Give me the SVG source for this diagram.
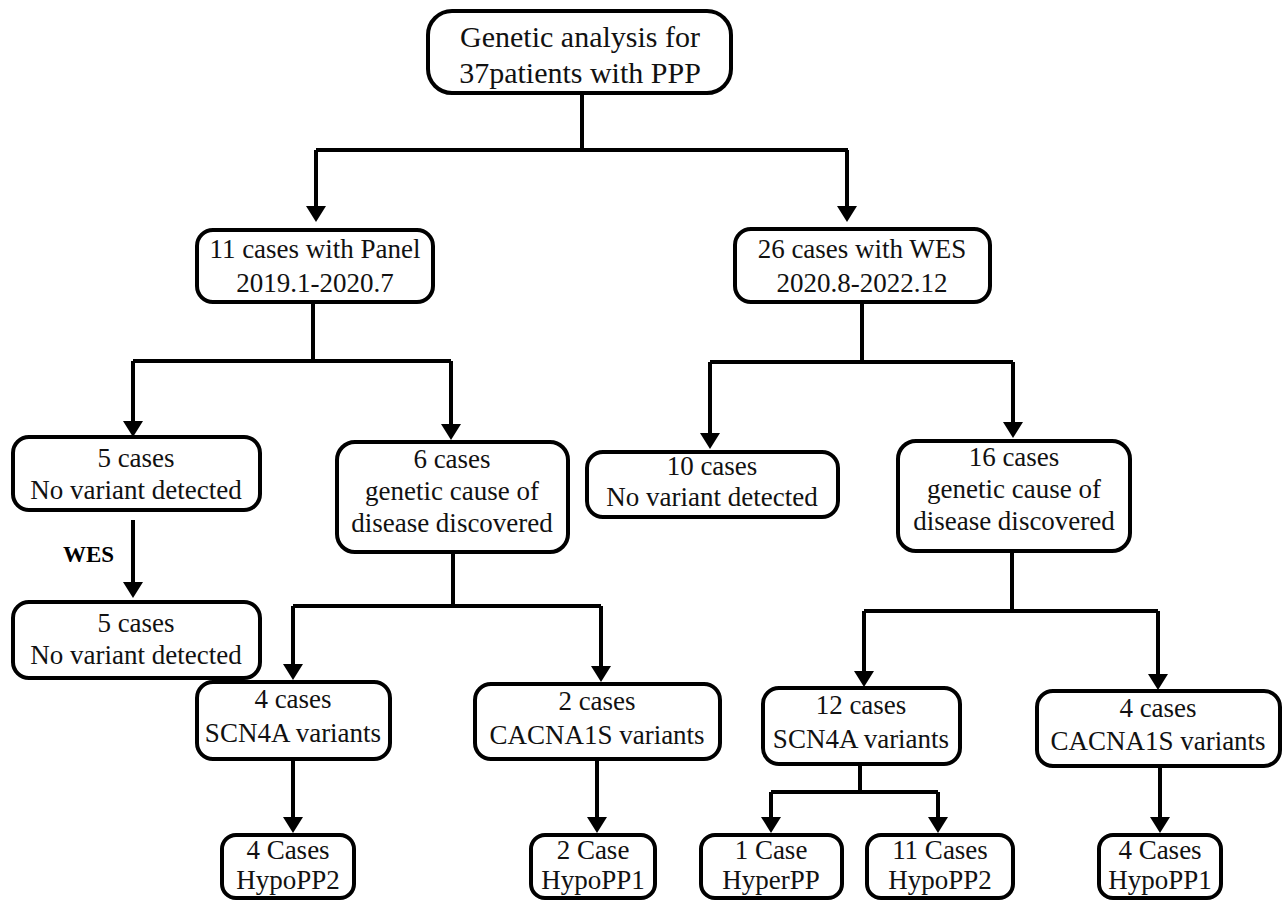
<svg xmlns="http://www.w3.org/2000/svg" width="1283" height="901" viewBox="0 0 1283 901">
<style>
.box{fill:#fff;stroke:#000;stroke-width:4}
.t{font-family:"Liberation Serif","Times New Roman",serif;font-size:27px;fill:#111;text-anchor:middle}
.big{font-size:30px}
.c{fill:none;stroke:#000;stroke-width:4}
.lbl{font-family:"Liberation Serif","Times New Roman",serif;font-size:23px;font-weight:bold;fill:#000}
</style>
<defs>
<marker id="ah" viewBox="0 0 16 20" refX="8" refY="10" markerWidth="16" markerHeight="20" markerUnits="userSpaceOnUse" orient="auto">
<path d="M0,0 L16,10 L0,20 z" fill="#000"/>
</marker>
</defs>
<rect width="1283" height="901" fill="#fff"/>
<g id="connectors">
<path class="c" d="M582 93 V150 M316 150 H848"/>
<path class="c" d="M316 150 V214" marker-end="url(#ah)"/>
<path class="c" d="M847 150 V214" marker-end="url(#ah)"/>
<path class="c" d="M313 302 V361 M133 361 H451"/>
<path class="c" d="M133 361 V429" marker-end="url(#ah)"/>
<path class="c" d="M451 361 V432" marker-end="url(#ah)"/>
<path class="c" d="M862 302 V362 M710 362 H1013"/>
<path class="c" d="M710 362 V441" marker-end="url(#ah)"/>
<path class="c" d="M1013 362 V430" marker-end="url(#ah)"/>
<path class="c" d="M133 520 V590" marker-end="url(#ah)"/>
<path class="c" d="M453 552 V606 M293 606 H601"/>
<path class="c" d="M293 606 V672" marker-end="url(#ah)"/>
<path class="c" d="M601 606 V674" marker-end="url(#ah)"/>
<path class="c" d="M293 759 V825" marker-end="url(#ah)"/>
<path class="c" d="M597 759 V825" marker-end="url(#ah)"/>
<path class="c" d="M1012 551 V611 M864 611 H1158"/>
<path class="c" d="M864 611 V679" marker-end="url(#ah)"/>
<path class="c" d="M1158 611 V682" marker-end="url(#ah)"/>
<path class="c" d="M860 764 V792 M771 792 H938"/>
<path class="c" d="M771 792 V825" marker-end="url(#ah)"/>
<path class="c" d="M938 792 V825" marker-end="url(#ah)"/>
<path class="c" d="M1160 766 V825" marker-end="url(#ah)"/>
<text class="lbl" x="63" y="562">WES</text>
</g>
<g id="n_top"><rect class="box" x="428" y="11" width="303" height="82" rx="24"/>
<text class="t big" x="580" y="47">Genetic analysis for</text><text class="t big" x="580" y="83">37patients with PPP</text></g>
<g id="n_panel"><rect class="box" x="197" y="230" width="236" height="72" rx="16"/>
<text class="t" x="315" y="258">11 cases with Panel</text><text class="t" x="315" y="292">2019.1-2020.7</text></g>
<g id="n_wes"><rect class="box" x="735" y="229" width="255" height="73" rx="16"/>
<text class="t" x="862" y="258">26 cases with WES</text><text class="t" x="862" y="292">2020.8-2022.12</text></g>
<g id="n_pnv"><rect class="box" x="13" y="437" width="247" height="73" rx="16"/>
<text class="t" x="136" y="467">5 cases</text><text class="t" x="136" y="499">No variant detected</text></g>
<g id="n_pgc"><rect class="box" x="337" y="442" width="231" height="110" rx="18"/>
<text class="t" x="452" y="468">6 cases</text><text class="t" x="452" y="500">genetic cause of</text><text class="t" x="452" y="532">disease discovered</text></g>
<g id="n_pnv2"><rect class="box" x="13" y="602" width="247" height="76" rx="16"/>
<text class="t" x="136" y="632">5 cases</text><text class="t" x="136" y="664">No variant detected</text></g>
<g id="n_pscn"><rect class="box" x="197" y="682" width="193" height="77" rx="16"/>
<text class="t" x="293" y="708">4 cases</text><text class="t" x="293" y="742">SCN4A variants</text></g>
<g id="n_pcac"><rect class="box" x="475" y="684" width="245" height="75" rx="16"/>
<text class="t" x="597" y="710">2 cases</text><text class="t" x="597" y="744">CACNA1S variants</text></g>
<g id="n_ph2"><rect class="box" x="222" y="835" width="132" height="63" rx="14"/>
<text class="t" x="288" y="859">4 Cases</text><text class="t" x="288" y="889">HypoPP2</text></g>
<g id="n_ph1"><rect class="box" x="531" y="835" width="124" height="63" rx="14"/>
<text class="t" x="593" y="859">2 Case</text><text class="t" x="593" y="889">HypoPP1</text></g>
<g id="n_wnv"><rect class="box" x="587" y="452" width="251" height="65" rx="16"/>
<text class="t" x="712" y="475">10 cases</text><text class="t" x="712" y="506">No variant detected</text></g>
<g id="n_wgc"><rect class="box" x="898" y="441" width="232" height="110" rx="18"/>
<text class="t" x="1014" y="466">16 cases</text><text class="t" x="1014" y="498">genetic cause of</text><text class="t" x="1014" y="530">disease discovered</text></g>
<g id="n_wscn"><rect class="box" x="763" y="688" width="197" height="76" rx="16"/>
<text class="t" x="861" y="714">12 cases</text><text class="t" x="861" y="748">SCN4A variants</text></g>
<g id="n_wcac"><rect class="box" x="1037" y="691" width="243" height="75" rx="16"/>
<text class="t" x="1158" y="717">4 cases</text><text class="t" x="1158" y="750">CACNA1S variants</text></g>
<g id="n_whyper"><rect class="box" x="701" y="835" width="141" height="63" rx="14"/>
<text class="t" x="771" y="859">1 Case</text><text class="t" x="771" y="889">HyperPP</text></g>
<g id="n_wh2"><rect class="box" x="867" y="835" width="146" height="63" rx="14"/>
<text class="t" x="940" y="859">11 Cases</text><text class="t" x="940" y="889">HypoPP2</text></g>
<g id="n_wh1"><rect class="box" x="1099" y="835" width="122" height="63" rx="14"/>
<text class="t" x="1160" y="859">4 Cases</text><text class="t" x="1160" y="889">HypoPP1</text></g>
</svg>
